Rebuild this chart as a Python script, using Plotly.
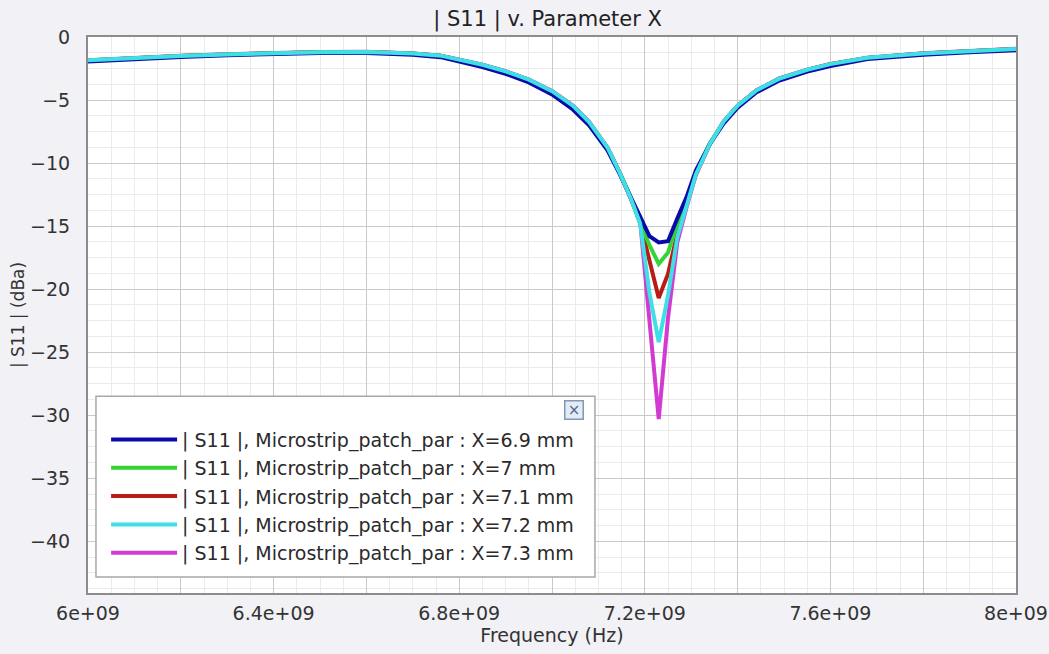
import plotly.graph_objects as go

# Frequency sweep points (GHz)
freq_ghz = [6.00, 6.10, 6.20, 6.30, 6.40, 6.50, 6.60, 6.70, 6.76, 6.80,
            6.85, 6.90, 6.95, 7.00, 7.045, 7.08, 7.12, 7.145, 7.17, 7.19,
            7.21, 7.23, 7.25, 7.27, 7.29, 7.31, 7.34, 7.37, 7.40, 7.44,
            7.49, 7.55, 7.60, 7.68, 7.80, 7.90, 8.00]

# |S11| in dB for each patch parameter X
s11_x69 = [-1.95, -1.75, -1.58, -1.45, -1.33, -1.27, -1.26, -1.40, -1.60, -1.95,
           -2.38, -2.92, -3.60, -4.55, -5.75, -7.00, -9.00, -10.80, -12.70, -14.40,
           -15.80, -16.30, -16.20, -14.40, -12.70, -10.60, -8.50, -6.85, -5.60, -4.40,
           -3.45, -2.75, -2.30, -1.75, -1.40, -1.20, -1.05]
s11_x70 = [-1.87, -1.67, -1.51, -1.39, -1.28, -1.21, -1.19, -1.32, -1.50, -1.83,
           -2.24, -2.76, -3.43, -4.36, -5.52, -6.82, -8.85, -10.72, -12.75, -14.80,
           -16.50, -18.00, -17.10, -14.80, -12.90, -10.75, -8.45, -6.75, -5.48, -4.28,
           -3.33, -2.63, -2.18, -1.67, -1.32, -1.13, -0.97]
s11_x71 = [-1.86, -1.66, -1.50, -1.38, -1.27, -1.20, -1.18, -1.31, -1.49, -1.81,
           -2.22, -2.74, -3.40, -4.33, -5.48, -6.78, -8.82, -10.70, -12.78, -14.75,
           -17.60, -20.70, -18.80, -15.60, -13.20, -10.85, -8.48, -6.72, -5.46, -4.26,
           -3.31, -2.61, -2.16, -1.66, -1.31, -1.12, -0.96]
s11_x72 = [-1.85, -1.65, -1.50, -1.38, -1.27, -1.20, -1.18, -1.30, -1.48, -1.80,
           -2.20, -2.72, -3.38, -4.30, -5.45, -6.75, -8.80, -10.70, -12.80, -14.80,
           -20.30, -24.20, -20.50, -15.90, -13.40, -10.90, -8.50, -6.70, -5.45, -4.25,
           -3.30, -2.60, -2.15, -1.65, -1.30, -1.12, -0.95]
s11_x73 = [-1.85, -1.65, -1.49, -1.37, -1.26, -1.19, -1.17, -1.30, -1.48, -1.79,
           -2.19, -2.71, -3.37, -4.28, -5.43, -6.73, -8.78, -10.68, -12.82, -14.60,
           -22.50, -30.30, -22.30, -16.30, -13.50, -10.95, -8.52, -6.70, -5.44, -4.24,
           -3.29, -2.59, -2.14, -1.64, -1.29, -1.11, -0.94]

series_names = ["| S11 |, Microstrip_patch_par : X=6.9 mm",
                "| S11 |, Microstrip_patch_par : X=7 mm",
                "| S11 |, Microstrip_patch_par : X=7.1 mm",
                "| S11 |, Microstrip_patch_par : X=7.2 mm",
                "| S11 |, Microstrip_patch_par : X=7.3 mm"]
series_values = [s11_x69, s11_x70, s11_x71, s11_x72, s11_x73]
series_colors = ["#0a0aa8", "#36d336", "#b81c14", "#3ee0e6", "#d23ad2"]

# Axis tick positions and labels
x_tick_hz = [6.0e9, 6.2e9, 6.4e9, 6.6e9, 6.8e9, 7.0e9, 7.2e9, 7.4e9, 7.6e9, 7.8e9, 8.0e9]
x_tick_text = ["6e+09", "", "6.4e+09", "", "6.8e+09", "", "7.2e+09", "", "7.6e+09", "", "8e+09"]
y_tick_vals = [0, -5, -10, -15, -20, -25, -30, -35, -40]

freq_hz = [f * 1e9 for f in freq_ghz]

font_main = "DejaVu Sans, Verdana, sans-serif"

fig = go.Figure()
# draw order puts the deeper curves underneath; legend keeps X order
draw_order = [4, 2, 1, 0, 3]
for i in draw_order:
    fig.add_trace(go.Scatter(
        x=freq_hz, y=series_values[i], mode="lines",
        name=series_names[i],
        line=dict(color=series_colors[i], width=4),
        legendrank=i + 1,
        legendgroup=f"g{i}",
    ))

fig.update_layout(
    width=1049, height=654,
    margin=dict(l=88, r=33, t=37, b=61),
    paper_bgcolor="#f1f1f6",
    plot_bgcolor="#ffffff",
    title=dict(text="| S11 | v. Parameter X", x=0.522, xanchor="center",
               y=0.972, yanchor="middle",
               font=dict(family=font_main, size=21, color="#222222")),
    showlegend=True,
    legend=dict(
        x=0.0195, y=0.31, xanchor="left", yanchor="top",
        bgcolor="rgba(0,0,0,0)", borderwidth=0,
        font=dict(family=font_main, size=19, color="#2a2a2a"),
        itemwidth=66,
        traceorder="grouped", tracegroupgap=0.6,
    ),
    xaxis=dict(
        range=[6.0e9, 8.0e9], automargin=False,
        tickmode="array", tickvals=x_tick_hz, ticktext=x_tick_text,
        tickfont=dict(family=font_main, size=19, color="#333333"),
        showgrid=True, gridcolor="#c9c9c9", gridwidth=1,
        minor=dict(dtick=0.05e9, tick0=6.0e9, showgrid=True, gridcolor="#ebebeb", gridwidth=1),
        showline=True, linecolor="#8c8c8c", linewidth=2, mirror=True,
        zeroline=False, ticks="", ticklabelstandoff=2,
        title=dict(text="Frequency (Hz)", standoff=6,
                   font=dict(family=font_main, size=19, color="#333333")),
    ),
    yaxis=dict(
        range=[-44.1, 0.0], automargin=False,
        tickmode="array", tickvals=y_tick_vals,
        tickfont=dict(family=font_main, size=19, color="#333333"),
        showgrid=True, gridcolor="#c9c9c9", gridwidth=1,
        minor=dict(dtick=1.25, tick0=0, showgrid=True, gridcolor="#ebebeb", gridwidth=1),
        showline=True, linecolor="#8c8c8c", linewidth=2, mirror=True,
        zeroline=False, ticks="", ticklabelstandoff=12,
        title=dict(text="| S11 | (dBa)", standoff=1,
                   font=dict(family=font_main, size=17, color="#333333")),
    ),
)

# legend frame drawn as a panel over the grid
fig.add_shape(
    type="rect", xref="paper", yref="paper", layer="above",
    x0=0.0086, x1=0.5463, y0=0.029, y1=0.354,
    fillcolor="#ffffff", line=dict(color="#a8a8a8", width=1.5),
)

# legend close button
fig.add_annotation(
    x=0.5237, y=0.329, xref="paper", yref="paper",
    xanchor="center", yanchor="middle",
    text="×", showarrow=False,
    font=dict(family=font_main, size=15, color="#4c6a96"),
    bgcolor="#e4ebf4", bordercolor="#7f97b8", borderwidth=1.5,
    width=15, height=15,
)

fig.write_html("out.html")
